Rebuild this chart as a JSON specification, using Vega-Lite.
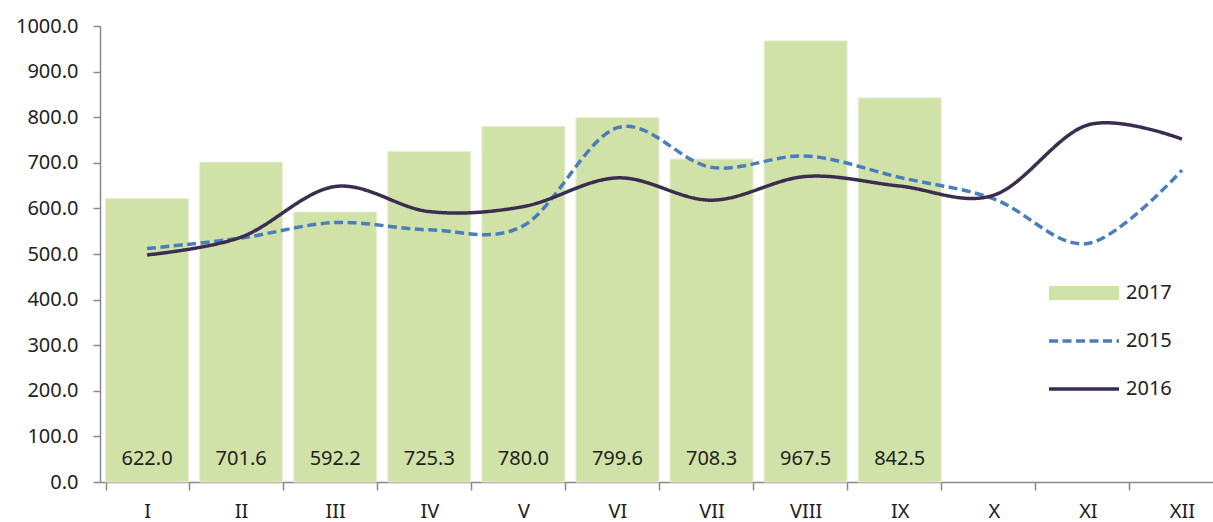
{
  "$schema": "https://vega.github.io/schema/vega-lite/v6.json",
  "autosize": {"type": "none"},
  "padding": {"left": 100, "top": 26, "right": 0, "bottom": 40},
  "width": 1113,
  "height": 456,
  "background": "white",
  "config": {"view": {"stroke": null}, "font": "Noto Sans"},
  "data": {
    "values": [
      {"month": "I", "series": "2017", "value": 622.0},
      {"month": "II", "series": "2017", "value": 701.6},
      {"month": "III", "series": "2017", "value": 592.2},
      {"month": "IV", "series": "2017", "value": 725.3},
      {"month": "V", "series": "2017", "value": 780.0},
      {"month": "VI", "series": "2017", "value": 799.6},
      {"month": "VII", "series": "2017", "value": 708.3},
      {"month": "VIII", "series": "2017", "value": 967.5},
      {"month": "IX", "series": "2017", "value": 842.5},
      {"month": "I", "series": "2015", "value": 512},
      {"month": "II", "series": "2015", "value": 535},
      {"month": "III", "series": "2015", "value": 569},
      {"month": "IV", "series": "2015", "value": 553},
      {"month": "V", "series": "2015", "value": 562},
      {"month": "VI", "series": "2015", "value": 777},
      {"month": "VII", "series": "2015", "value": 690},
      {"month": "VIII", "series": "2015", "value": 715},
      {"month": "IX", "series": "2015", "value": 668},
      {"month": "X", "series": "2015", "value": 621},
      {"month": "XI", "series": "2015", "value": 523},
      {"month": "XII", "series": "2015", "value": 684},
      {"month": "I", "series": "2016", "value": 498},
      {"month": "II", "series": "2016", "value": 537},
      {"month": "III", "series": "2016", "value": 648},
      {"month": "IV", "series": "2016", "value": 593},
      {"month": "V", "series": "2016", "value": 604},
      {"month": "VI", "series": "2016", "value": 667},
      {"month": "VII", "series": "2016", "value": 618},
      {"month": "VIII", "series": "2016", "value": 670},
      {"month": "IX", "series": "2016", "value": 649},
      {"month": "X", "series": "2016", "value": 629},
      {"month": "XI", "series": "2016", "value": 783},
      {"month": "XII", "series": "2016", "value": 752}
    ]
  },
  "encoding": {
    "x": {
      "field": "month",
      "type": "ordinal",
      "sort": ["I", "II", "III", "IV", "V", "VI", "VII", "VIII", "IX", "X", "XI", "XII"],
      "scale": {"range": [0, 1129], "paddingInner": 0.117, "paddingOuter": 0.0585},
      "axis": {
        "title": null,
        "labelAngle": 0,
        "grid": false,
        "tickBand": "extent",
        "tickSize": 8,
        "labelPadding": 11,
        "labelFontSize": 20,
        "labelColor": "#222222",
        "domainColor": "#898989",
        "tickColor": "#898989",
        "domainWidth": 1.5,
        "tickWidth": 1.5
      }
    }
  },
  "layer": [
    {
      "transform": [{"filter": "datum.series === '2017'"}],
      "mark": {"type": "bar", "stroke": "#e9f1d8", "strokeWidth": 1},
      "encoding": {
        "y": {
          "field": "value",
          "type": "quantitative",
          "scale": {"domain": [0, 1000], "nice": false},
          "axis": {
            "title": null,
            "grid": false,
            "values": [0, 100, 200, 300, 400, 500, 600, 700, 800, 900, 1000],
            "format": ".1f",
            "tickSize": 7,
            "labelPadding": 15,
            "labelFontSize": 20,
            "labelColor": "#222222",
            "domainColor": "#898989",
            "tickColor": "#898989",
            "domainWidth": 1.5,
            "tickWidth": 1.5
          }
        },
        "fill": {
          "field": "series",
          "type": "nominal",
          "scale": {"domain": ["2017"], "range": ["#d1e2a8"]},
          "legend": {
            "orient": "none",
            "legendX": 974,
            "legendY": 257,
            "title": null,
            "padding": 0,
            "labelFontSize": 20,
            "labelColor": "#222222",
            "labelOffset": 32,
            "symbolType": "M-5,-1H5V1H-5Z",
            "symbolSize": 196,
            "symbolStrokeWidth": 0,
            "symbolOpacity": 1
          }
        }
      }
    },
    {
      "transform": [{"filter": "datum.series !== '2017'"}],
      "mark": {"type": "line", "interpolate": "cardinal", "strokeWidth": 3.5},
      "encoding": {
        "y": {"field": "value", "type": "quantitative"},
        "stroke": {
          "field": "series",
          "type": "nominal",
          "scale": {"domain": ["2015", "2016"], "range": ["#4a7ebb", "#3b2d4f"]},
          "legend": {
            "orient": "none",
            "legendX": 974,
            "legendY": 305,
            "title": null,
            "padding": 0,
            "labelFontSize": 20,
            "labelColor": "#222222",
            "labelOffset": 32,
            "rowPadding": 28,
            "symbolType": "M-5,0H5",
            "symbolSize": 196,
            "symbolStrokeWidth": 3.5,
            "symbolOpacity": 1
          }
        },
        "strokeDash": {
          "field": "series",
          "type": "nominal",
          "scale": {"domain": ["2015", "2016"], "range": [[9, 4.5], [1, 0]]},
          "legend": {
            "orient": "none",
            "legendX": 974,
            "legendY": 305,
            "title": null,
            "padding": 0,
            "labelFontSize": 20,
            "labelColor": "#222222",
            "labelOffset": 32,
            "rowPadding": 28,
            "symbolType": "M-5,0H5",
            "symbolSize": 196,
            "symbolStrokeWidth": 3.5,
            "symbolOpacity": 1
          }
        }
      }
    },
    {
      "transform": [{"filter": "datum.series === '2017'"}],
      "mark": {"type": "text", "baseline": "alphabetic", "dy": -17, "fontSize": 20, "color": "#222222"},
      "encoding": {
        "y": {"datum": 0},
        "text": {"field": "value", "type": "quantitative", "format": ".1f"}
      }
    }
  ]
}
